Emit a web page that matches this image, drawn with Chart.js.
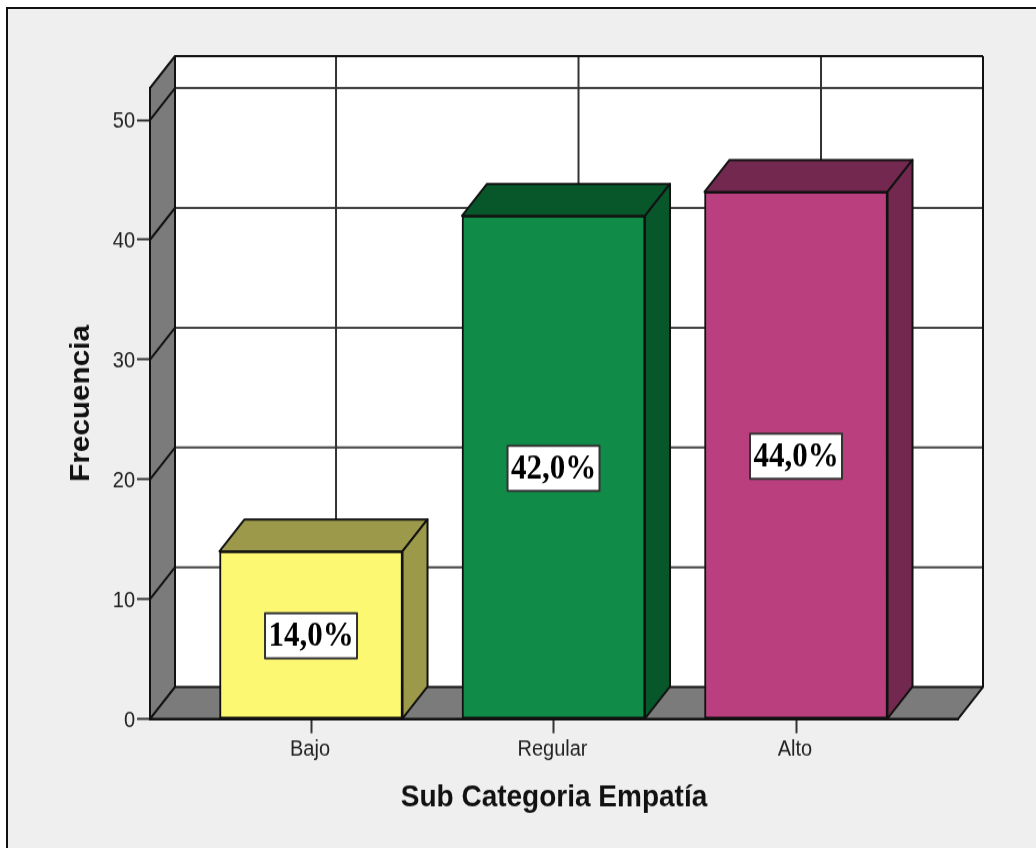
<!DOCTYPE html>
<html lang="es">
<head>
<meta charset="utf-8">
<title>Sub Categoria Empatía</title>
<style>
  html, body { margin: 0; background: #fff; }
  #frame {
    position: absolute; left: 6px; top: 7px; right: 0; bottom: 0;
    background: #efefef; border-left: 2px solid #111; border-top: 2px solid #111;
  }
  /* the plot is taller than wide in its proportions, text included */
  #chart { position: absolute; left: 0; top: 0; transform-origin: 0 0; transform: scaleY(1.1); }
</style>
<script src="https://cdn.jsdelivr.net/npm/chart.js@4/dist/chart.umd.min.js"></script>
</head>
<body style="width:1036px;height:848px;overflow:hidden">
<div id="frame"></div>
<canvas id="chart" width="1036" height="771"></canvas>
<script>
const categories = ['Bajo', 'Regular', 'Alto'];
const frecuencia = [14, 42, 44];
const percentLabels = ['14,0%', '42,0%', '44,0%'];
const yTicks = [0, 10, 20, 30, 40, 50];

const frontColors = ['#fcf871', '#108c48', '#ba3f7e'];
const shadeColors = ['#9c9a4a', '#08572b', '#73294f'];

// oblique offset of the back plane
const DEPTH_X = 25;
const DEPTH_Y = -29;
const EDGE = '#111';

function poly(ctx, pts, fill, stroke, lw) {
  ctx.beginPath();
  pts.forEach((p, i) => i ? ctx.lineTo(p[0], p[1]) : ctx.moveTo(p[0], p[1]));
  ctx.closePath();
  if (fill) { ctx.fillStyle = fill; ctx.fill(); }
  if (stroke) { ctx.strokeStyle = stroke; ctx.lineWidth = lw; ctx.stroke(); }
}

function line(ctx, x1, y1, x2, y2, color, lw) {
  ctx.beginPath();
  ctx.moveTo(x1, y1);
  ctx.lineTo(x2, y2);
  ctx.strokeStyle = color;
  ctx.lineWidth = lw;
  ctx.stroke();
}

// back wall, left wall, floor and their grid lines
const box3d = {
  id: 'box3d',
  beforeDraw(chart) {
    const { ctx, chartArea: a, scales } = chart;
    const dx = DEPTH_X, dy = DEPTH_Y;
    ctx.save();
    ctx.lineJoin = 'round';
    poly(ctx, [[a.left + dx, a.top + dy], [a.right + dx, a.top + dy], [a.right + dx, a.bottom + dy], [a.left + dx, a.bottom + dy]], '#fff');
    yTicks.forEach(v => {
      if (v === 0) return;
      const y = scales.y.getPixelForValue(v);
      line(ctx, a.left + dx, y + dy, a.right + dx, y + dy, '#444', 2);
    });
    categories.forEach((c, i) => {
      const x = scales.x.getPixelForValue(i);
      line(ctx, x + dx, a.top + dy, x + dx, a.bottom + dy, '#333', 2);
    });
    poly(ctx, [[a.left, a.top], [a.left + dx, a.top + dy], [a.left + dx, a.bottom + dy], [a.left, a.bottom]], '#7b7b7b', EDGE, 2);
    poly(ctx, [[a.left, a.bottom], [a.left + dx, a.bottom + dy], [a.right + dx, a.bottom + dy], [a.right, a.bottom]], '#7b7b7b', EDGE, 2);
    yTicks.forEach(v => {
      if (v === 0) return;
      const y = scales.y.getPixelForValue(v);
      line(ctx, a.left, y, a.left + dx, y + dy, EDGE, 2);
    });
    line(ctx, a.left + dx, a.top + dy, a.right + dx, a.top + dy, EDGE, 2);
    line(ctx, a.right + dx, a.top + dy, a.right + dx, a.bottom + dy, EDGE, 2);
    ctx.restore();
  }
};

// top and side faces of each bar, then the value boxes
const barFaces = {
  id: 'barFaces',
  afterDatasetsDraw(chart) {
    const { ctx } = chart;
    const dx = DEPTH_X, dy = DEPTH_Y;
    ctx.save();
    ctx.lineJoin = 'round';
    chart.getDatasetMeta(0).data.forEach((bar, i) => {
      const { x, y, base, width } = bar.getProps(['x', 'y', 'base', 'width'], true);
      const l = x - width / 2, r = x + width / 2;
      poly(ctx, [[l, y], [l + dx, y + dy], [r + dx, y + dy], [r, y]], shadeColors[i], EDGE, 2);
      poly(ctx, [[r, y], [r + dx, y + dy], [r + dx, base + dy], [r, base]], shadeColors[i], EDGE, 2);

      const cy = (y + base) / 2;
      ctx.fillStyle = '#fff';
      ctx.strokeStyle = '#333';
      ctx.lineWidth = 2;
      ctx.fillRect(x - 46, cy - 19.5, 92, 41);
      ctx.strokeRect(x - 46, cy - 19.5, 92, 41);
      ctx.fillStyle = '#000';
      ctx.font = 'bold 31px "Liberation Serif"';
      ctx.textAlign = 'center';
      ctx.textBaseline = 'middle';
      ctx.fillText(percentLabels[i], x, cy + 2);
    });
    ctx.restore();
  }
};

new Chart(document.getElementById('chart').getContext('2d'), {
  type: 'bar',
  data: {
    datasets: [{
      data: frecuencia.map((v, i) => ({ x: i, y: v })),
      backgroundColor: frontColors,
      borderColor: EDGE,
      borderWidth: 2,
      borderSkipped: false,
      barThickness: 183
    }]
  },
  options: {
    responsive: false,
    animation: false,
    layout: { padding: { top: 80, right: 78, left: 0, bottom: 0 } },
    plugins: { legend: { display: false }, tooltip: { enabled: false } },
    scales: {
      x: {
        type: 'linear',
        offset: false,
        min: -0.664,
        max: 2.668,
        afterBuildTicks: s => { s.ticks = categories.map((c, i) => ({ value: i })); },
        afterFit: s => { s.height = 117.4; },
        grid: { offset: false, drawOnChartArea: false, tickLength: 13, tickWidth: 2, tickColor: '#333' },
        border: { color: EDGE, width: 2 },
        ticks: {
          autoSkip: false,
          maxRotation: 0,
          padding: 3,
          labelOffset: -1,
          color: '#222',
          font: { family: '"Liberation Sans"', size: 20 },
          callback: v => categories[v]
        },
        title: {
          display: true,
          text: 'Sub Categoria Empatía',
          color: '#111',
          font: { family: '"Liberation Sans"', size: 28, weight: 'bold' },
          padding: { top: 0, bottom: 29 }
        }
      },
      y: {
        min: 0,
        max: 52.67,
        afterFit: s => { s.width = 150; },
        grid: { drawOnChartArea: false, tickLength: 13, tickWidth: 2, tickColor: '#333' },
        border: { color: EDGE, width: 2 },
        ticks: {
          stepSize: 10,
          includeBounds: false,
          padding: 2,
          labelOffset: 1.5,
          color: '#222',
          font: { family: '"Liberation Sans"', size: 20 }
        },
        title: {
          display: true,
          text: 'Frecuencia',
          color: '#111',
          font: { family: '"Liberation Sans"', size: 27, weight: 'bold' },
          padding: { top: 65, bottom: 0 }
        }
      }
    }
  },
  plugins: [box3d, barFaces]
});
</script>
</body>
</html>
